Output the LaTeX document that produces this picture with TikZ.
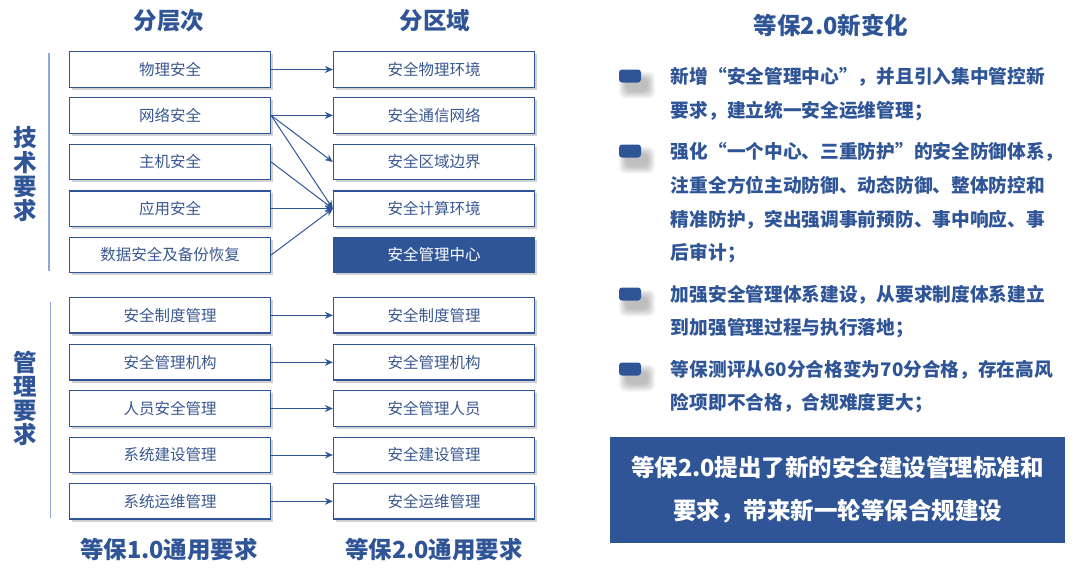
\documentclass[tikz,border=0pt]{standalone}
\usepackage{fontspec}
\setmainfont{Noto Sans CJK SC}
\usetikzlibrary{arrows.meta,shadows}
\definecolor{mainblue}{HTML}{2F5597}
\definecolor{boxtext}{HTML}{3A5891}
\definecolor{sideline}{HTML}{8FAADC}
\begin{document}
\begin{tikzpicture}[x=1pt,y=-1pt,
  lbox/.style={draw=mainblue, line width=1.3pt, fill=white, minimum width=201pt, minimum height=35.5pt, inner sep=0pt, text=boxtext, font=\fontsize{15.5}{18}\selectfont, drop shadow={shadow xshift=2.5pt, shadow yshift=-2.5pt, opacity=0.3, fill=black!60}},
  hbox/.style={lbox, fill=mainblue, text=white},
  conn/.style={draw=mainblue, line width=1pt, -{Stealth[length=8pt,width=7pt]}},
  title/.style={text=mainblue, inner sep=0pt, font=\bfseries\fontsize{23.5}{26}\selectfont},
  sidelabel/.style={text=mainblue, inner sep=0pt, align=center, font=\bfseries\fontsize{23.5}{24.3}\selectfont},
  ptext/.style={anchor=west, text=mainblue, inner sep=0pt, font=\bfseries\fontsize{18.7}{20}\selectfont},
  bulletbox/.style={fill=mainblue, rounded corners=3pt, minimum width=22pt, minimum height=13pt, inner sep=0pt},
  summary/.style={fill=mainblue, text=white, minimum width=455pt, minimum height=106pt, inner sep=0pt, align=center, font=\bfseries\fontsize{23.5}{43.7}\selectfont}
]
\useasboundingbox (0,0) rectangle (1082,570);

% titles
\node[title] (tl) at (169,21) {分层次};
\node[title] (tr) at (435,21) {分区域};
\node[title] (tn) at (831,25) {等保2.0新变化};
\node[title] (bl) at (169,550) {等保1.0通用要求};
\node[title] (br) at (434,550) {等保2.0通用要求};

% side labels and lines
\node[sidelabel] (tech) at (25,174.5) {技\\术\\要\\求};
\node[sidelabel] (mgmt) at (25,398.5) {管\\理\\要\\求};
\draw[sideline, line width=1.5pt] (49,53) -- (49,271);
\draw[sideline, line width=1.5pt] (50.5,302) -- (50.5,518);

% left boxes (technical)
\node[lbox] (l1) at (170,69.5) {物理安全};
\node[lbox] (l2) at (170,115.4) {网络安全};
\node[lbox] (l3) at (170,162) {主机安全};
\node[lbox] (l4) at (170,208.7) {应用安全};
\node[lbox] (l5) at (170,255) {数据安全及备份恢复};
% right boxes (technical)
\node[lbox] (r1) at (434,69.5) {安全物理环境};
\node[lbox] (r2) at (434,115.4) {安全通信网络};
\node[lbox] (r3) at (434,162) {安全区域边界};
\node[lbox] (r4) at (434,208.7) {安全计算环境};
\node[hbox] (r5) at (434,255) {安全管理中心};

% management boxes
\node[lbox] (m1) at (170,315.3) {安全制度管理};
\node[lbox] (m2) at (170,362.3) {安全管理机构};
\node[lbox] (m3) at (170,408.5) {人员安全管理};
\node[lbox] (m4) at (170,455) {系统建设管理};
\node[lbox] (m5) at (170,501.3) {系统运维管理};
\node[lbox] (n1) at (434,315.3) {安全制度管理};
\node[lbox] (n2) at (434,362.3) {安全管理机构};
\node[lbox] (n3) at (434,408.5) {安全管理人员};
\node[lbox] (n4) at (434,455) {安全建设管理};
\node[lbox] (n5) at (434,501.3) {安全运维管理};

% connectors
\draw[conn] (l1.east) -- (r1.west);
\draw[conn] (l2.east) -- (r2.west);
\draw[conn] (l2.east) -- (r3.west);
\draw[conn] (l2.east) -- (r4.west);
\draw[conn] (l3.east) -- (r4.west);
\draw[conn] (l4.east) -- (r4.west);
\draw[conn] (l5.east) -- (r4.west);
\draw[conn] (m1.east) -- (n1.west);
\draw[conn] (m2.east) -- (n2.west);
\draw[conn] (m3.east) -- (n3.west);
\draw[conn] (m4.east) -- (n4.west);
\draw[conn] (m5.east) -- (n5.west);

% bullet shadows
\foreach \by in {76,151,294,369}{
  \foreach \k in {0,...,7}{
    \fill[black, opacity=0.035, rounded corners=6pt] (630-11+7-\k,\by-6.5+9-\k) rectangle (630+11+7+\k,\by+6.5+9+\k);
  }
}
% bullets
\node[bulletbox] (b1) at (630,76) {};
\node[bulletbox] (b2) at (630,151) {};
\node[bulletbox] (b3) at (630,294) {};
\node[bulletbox] (b4) at (630,369) {};

% bullet texts
\node[ptext] (p1a) at (670.7,77) {新增“安全管理中心”，并且引入集中管控新};
\node[ptext] (p1b) at (670.7,111) {要求，建立统一安全运维管理；};
\node[ptext] (p2a) at (670.7,151.7) {强化“一个中心、三重防护”的安全防御体系，};
\node[ptext] (p2b) at (670.7,185.7) {注重全方位主动防御、动态防御、整体防控和};
\node[ptext] (p2c) at (670.7,220) {精准防护，突出强调事前预防、事中响应、事};
\node[ptext] (p2d) at (670.7,253.5) {后审计；};
\node[ptext] (p3a) at (670.7,295) {加强安全管理体系建设，从要求制度体系建立};
\node[ptext] (p3b) at (670.7,328.5) {到加强管理过程与执行落地；};
\node[ptext] (p4a) at (670.7,370) {等保测评从60分合格变为70分合格，存在高风};
\node[ptext] (p4b) at (670.7,403.5) {险项即不合格，合规难度更大；};

% summary box
\node[summary] (sum) at (837.5,489.7) {等保2.0提出了新的安全建设管理标准和\\要求，带来新一轮等保合规建设};
\end{tikzpicture}
\end{document}
